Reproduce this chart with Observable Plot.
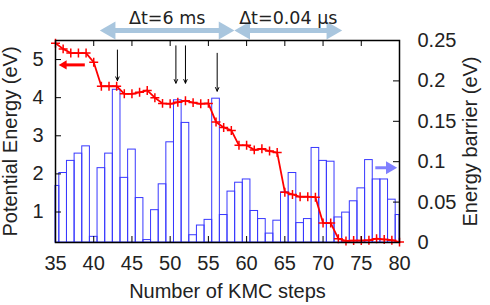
<!DOCTYPE html>
<html><head><meta charset="utf-8">
<script src="https://cdn.jsdelivr.net/npm/d3@7"></script>
<script src="https://cdn.jsdelivr.net/npm/@observablehq/plot@0.6"></script>
<style>
html,body{margin:0;padding:0;background:#fff;}
</style></head><body><div id="chart"></div>
<script>
// KMC steps (x categories)
const steps = [35,36,37,38,39,40,41,42,43,44,45,46,47,48,49,50,51,52,53,54,55,56,57,58,59,60,61,62,63,64,65,66,67,68,69,70,71,72,73,74,75,76,77,78,79,80];
// Potential energy (eV), left axis
const potential = [5.43,5.28,5.17,5.17,5.17,4.93,4.30,4.30,4.30,4.10,4.10,4.14,4.19,4.00,3.85,3.84,3.88,3.92,3.87,3.84,3.85,3.36,3.22,3.14,2.75,2.75,2.63,2.66,2.60,2.56,1.52,1.46,1.40,1.40,1.39,0.71,0.71,0.30,0.24,0.25,0.25,0.26,0.30,0.28,0.26,0.21];
// Energy barrier (eV), right axis
const barrier = [0.070,0.086,0.101,0.110,0.119,0.007,0.092,0.110,0.189,0.080,0.115,0.055,0.003,0.040,0.072,0.124,0.176,0.148,0.009,0.021,0.028,0.178,0.034,0.063,0.074,0.078,0.039,0.029,0.011,0.027,0.062,0.086,0.024,0.029,0.117,0.101,0.100,0.031,0.037,0.051,0.067,0.102,0.078,0.078,0.053,0.034];

const xTicks = [35,40,45,50,55,60,65,70,75,80];
const leftTicks = [1,2,3,4,5];
const rightTicks = [0,0.05,0.1,0.15,0.2,0.25];
const rightTickLabels = ["0","0.05","0.1","0.15","0.2","0.25"];

// annotations
const markedSteps = [43.1,50.75,52.0,56.15];
const markTop = [5.25,5.36,5.36,5.165];
const markBottom = [4.45,4.38,4.38,4.17];
const spanStart = [40.8,58.4];
const spanEnd = [58.4,72.5];
const spanLabels = ["Δt=6 ms","Δt=0.04 μs"];
const peArrow = {tip:35.43, tail:38.9, level:4.86};
const ebArrow = {tip:79.7, tail:76.9, level:0.0925};

const leftDomain = [0.2,5.5];
const rightDomain = [0,0.25];
const toLeft = r => leftDomain[0] + (r - rightDomain[0]) / (rightDomain[1]-rightDomain[0]) * (leftDomain[1]-leftDomain[0]);

const table = steps.map((s,i)=>({step:s, pe:potential[i], eb:barrier[i]}));
const spans = spanStart.map((s,i)=>({start:s, end:spanEnd[i], mid:(s+spanEnd[i])/2, label:spanLabels[i]}));
const marks = markedSteps.map((s,i)=>({x:s, top:markTop[i], bottom:markBottom[i]}));

const RED = "#ff0000", BAR = "#3838ff", LBLUE = "#a9c6de", ARROWBLUE = "#8080ff";

const chart = Plot.plot({
  width: 490, height: 305,
  marginLeft: 55, marginRight: 91, marginTop: 40, marginBottom: 63,
  style: {fontFamily: "'Liberation Sans', Arial, sans-serif", fontSize: "20px", background: "#fff", color: "#222"},
  x: {domain: [35,80]},
  y: {domain: leftDomain},
  marks: [
    // energy barrier bars (right axis)
    Plot.rect(table, {x1: d => Math.max(35, d.step-0.5), x2: d => Math.min(80, d.step+0.5), y1: leftDomain[0], y2: d => toLeft(d.eb), fill: "none", stroke: BAR, strokeWidth: 1}),
    // potential energy line (left axis)
    Plot.line(table, {x: "step", y: "pe", stroke: RED, strokeWidth: 1.8}),
    Plot.dot(table, {x: "step", y: "pe", symbol: "plus", r: 3, stroke: RED, strokeWidth: 1.5}),
    // black event arrows
    Plot.arrow(marks, {x1: "x", x2: "x", y1: "top", y2: "bottom", stroke: "black", strokeWidth: 1, headLength: 6, headAngle: 50}),
    // red axis-indicator arrow
    Plot.ruleY([peArrow], {y: "level", x1: "tip", x2: "tail", insetLeft: 6, stroke: RED, strokeWidth: 3}),
    Plot.dot([peArrow], {x: "tip", y: "level", symbol: "triangle", rotate: -90, r: 3.4, dx: 5.2, fill: RED, stroke: "none"}),
    // blue axis-indicator arrow
    Plot.ruleY([ebArrow], {y: d => toLeft(d.level), x1: "tail", x2: "tip", insetRight: 8, stroke: ARROWBLUE, strokeWidth: 3}),
    Plot.dot([ebArrow], {x: "tip", y: d => toLeft(d.level), symbol: "triangle", rotate: 90, r: 4.8, dx: -7.5, fill: ARROWBLUE, stroke: "none"}),
    // time-span double arrows above the frame
    Plot.ruleY(spans, {y: () => leftDomain[1], dy: -10, x1: "start", x2: "end", insetLeft: 12, insetRight: 12, stroke: LBLUE, strokeWidth: 5}),
    Plot.dot(spans, {x: "start", y: () => leftDomain[1], dy: -10, dx: 10.4, symbol: "triangle", rotate: -90, r: 6.7, fill: LBLUE, stroke: "none"}),
    Plot.dot(spans, {x: "end", y: () => leftDomain[1], dy: -10, dx: -10.4, symbol: "triangle", rotate: 90, r: 6.7, fill: LBLUE, stroke: "none"}),
    Plot.text(spans, {x: "mid", text: "label", frameAnchor: "top", dy: -29, fontFamily: "'DejaVu Sans', sans-serif", fontSize: 17.5, fill: "#222"}),
    // frame
    Plot.frame({stroke: "black", strokeWidth: 1.5}),
    // inward ticks
    Plot.tickY(leftTicks, {y: d => d, insetRight: 338, stroke: "black"}),
    Plot.tickY(rightTicks.slice(1,-1), {y: d => toLeft(d), insetLeft: 338, stroke: "black"}),
    Plot.tickX(xTicks.slice(1,-1), {x: d => d, insetTop: 196, stroke: "black"}),
    Plot.tickX(xTicks.slice(1,-1), {x: d => d, insetBottom: 196, stroke: "black"}),
    // axes (labels only)
    Plot.axisX({anchor: "bottom", ticks: xTicks, tickSize: 0, tickPadding: 13, label: null, tickFormat: d => String(d)}),
    Plot.axisY({anchor: "left", ticks: leftTicks, tickSize: 0, tickPadding: 12, label: null, tickFormat: d => String(d)}),
    Plot.axisY({anchor: "right", ticks: rightTicks.map(toLeft), tickSize: 0, tickPadding: 18, label: null,
      tickFormat: d => rightTickLabels[rightTicks.findIndex(r => Math.abs(toLeft(r) - d) < 1e-9)]}),
    // axis titles
    Plot.text(["Potential Energy (eV)"], {text: d => d, frameAnchor: "left", textAnchor: "middle", dx: -45, rotate: -90, fill: "#222"}),
    Plot.text(["Energy barrier (eV)"], {text: d => d, frameAnchor: "right", textAnchor: "middle", dx: 71, rotate: -90, fill: "#222"}),
    Plot.text(["Number of KMC steps"], {text: d => d, frameAnchor: "bottom", dy: 41, lineAnchor: "top", fill: "#222"})
  ]
});
document.getElementById("chart").appendChild(chart);
</script>
</body></html>
